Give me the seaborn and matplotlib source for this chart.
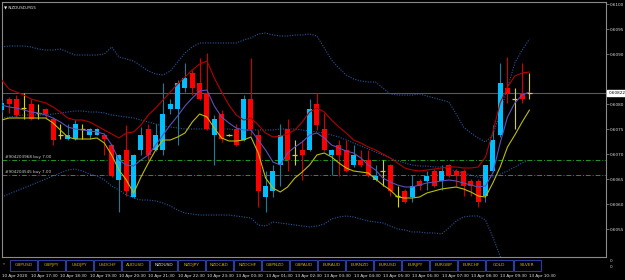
import matplotlib
matplotlib.use("Agg")
import matplotlib.pyplot as plt
import matplotlib.transforms as mtransforms
from matplotlib.patches import Rectangle
import pandas as pd
import seaborn as sns

# ---------------- data (NZDUSD M15) ----------------
open_ = [0.60788, 0.60810, 0.60810, 0.60792, 0.60800, 0.60782, 0.60790, 0.60770, 0.60738, 0.60730,
         0.60730, 0.60750, 0.60738, 0.60738, 0.60738, 0.60718, 0.60648, 0.60708, 0.60614, 0.60708,
         0.60750, 0.60708, 0.60708, 0.60790, 0.60790, 0.60832, 0.60862, 0.60842, 0.60822, 0.60738,
         0.60780, 0.60738, 0.60750, 0.60728, 0.60810, 0.60738, 0.60614, 0.60626, 0.60678, 0.60750,
         0.60698, 0.60708, 0.60708, 0.60800, 0.60750, 0.60698, 0.60718, 0.60708, 0.60678, 0.60688,
         0.60688, 0.60648, 0.60666, 0.60678, 0.60616, 0.60626, 0.60614, 0.60646, 0.60646, 0.60666,
         0.60646, 0.60678, 0.60666, 0.60666, 0.60646, 0.60646, 0.60616, 0.60666, 0.60738, 0.60832,
         0.60810, 0.60822, 0.60822]
high = [0.60808, 0.60814, 0.60818, 0.60822, 0.60810, 0.60800, 0.60792, 0.60774, 0.60760, 0.60760,
        0.60768, 0.60760, 0.60752, 0.60752, 0.60740, 0.60720, 0.60700, 0.60758, 0.60700, 0.60754,
        0.60760, 0.60760, 0.60842, 0.60810, 0.60848, 0.60882, 0.60868, 0.60892, 0.60902, 0.60778,
        0.60788, 0.60740, 0.60760, 0.60818, 0.60892, 0.60748, 0.60666, 0.60678, 0.60760, 0.60770,
        0.60728, 0.60728, 0.60810, 0.60822, 0.60782, 0.60710, 0.60728, 0.60728, 0.60718, 0.60708,
        0.60708, 0.60678, 0.60688, 0.60680, 0.60636, 0.60630, 0.60658, 0.60650, 0.60666, 0.60670,
        0.60678, 0.60680, 0.60670, 0.60670, 0.60650, 0.60650, 0.60678, 0.60758, 0.60882, 0.60894,
        0.60832, 0.60882, 0.60862]
low = [0.60784, 0.60782, 0.60774, 0.60770, 0.60768, 0.60770, 0.60770, 0.60718, 0.60730, 0.60728,
       0.60728, 0.60730, 0.60730, 0.60738, 0.60698, 0.60654, 0.60584, 0.60616, 0.60612, 0.60698,
       0.60688, 0.60706, 0.60698, 0.60780, 0.60718, 0.60824, 0.60818, 0.60808, 0.60748, 0.60678,
       0.60724, 0.60736, 0.60716, 0.60726, 0.60738, 0.60594, 0.60584, 0.60614, 0.60636, 0.60666,
       0.60678, 0.60648, 0.60706, 0.60748, 0.60706, 0.60658, 0.60656, 0.60664, 0.60674, 0.60674,
       0.60654, 0.60646, 0.60636, 0.60616, 0.60594, 0.60602, 0.60604, 0.60628, 0.60628, 0.60634,
       0.60628, 0.60654, 0.60636, 0.60616, 0.60616, 0.60594, 0.60604, 0.60664, 0.60734, 0.60802,
       0.60750, 0.60802, 0.60810]
close = [0.60802, 0.60800, 0.60778, 0.60792, 0.60770, 0.60782, 0.60780, 0.60728, 0.60738, 0.60738,
         0.60760, 0.60750, 0.60750, 0.60750, 0.60730, 0.60656, 0.60698, 0.60626, 0.60698, 0.60738,
         0.60698, 0.60738, 0.60780, 0.60800, 0.60842, 0.60852, 0.60832, 0.60810, 0.60750, 0.60770,
         0.60730, 0.60738, 0.60718, 0.60810, 0.60750, 0.60626, 0.60636, 0.60666, 0.60738, 0.60688,
         0.60698, 0.60698, 0.60790, 0.60758, 0.60708, 0.60708, 0.60698, 0.60666, 0.60698, 0.60678,
         0.60656, 0.60656, 0.60666, 0.60626, 0.60616, 0.60604, 0.60636, 0.60636, 0.60656, 0.60636,
         0.60666, 0.60656, 0.60656, 0.60636, 0.60636, 0.60604, 0.60678, 0.60728, 0.60842, 0.60822,
         0.60810, 0.60810, 0.60822]

ma_high = [0.60848, 0.60830, 0.60824, 0.60818, 0.60810, 0.60806, 0.60802, 0.60794, 0.60784, 0.60772,
           0.60768, 0.60768, 0.60764, 0.60756, 0.60748, 0.60740, 0.60732, 0.60742, 0.60744, 0.60758,
           0.60778, 0.60792, 0.60808, 0.60824, 0.60840, 0.60854, 0.60868, 0.60880, 0.60886, 0.60852,
           0.60824, 0.60798, 0.60778, 0.60768, 0.60772, 0.60758, 0.60742, 0.60734, 0.60736, 0.60740,
           0.60748, 0.60764, 0.60784, 0.60792, 0.60784, 0.60768, 0.60754, 0.60742, 0.60728, 0.60722,
           0.60714, 0.60708, 0.60700, 0.60692, 0.60682, 0.60672, 0.60668, 0.60666, 0.60668, 0.60670,
           0.60672, 0.60674, 0.60674, 0.60672, 0.60672, 0.60674, 0.60694, 0.60744, 0.60802, 0.60834,
           0.60856, 0.60862, 0.60864]
ma_fast = [0.60798, 0.60794, 0.60792, 0.60788, 0.60784, 0.60782, 0.60778, 0.60772, 0.60764, 0.60754,
           0.60750, 0.60748, 0.60746, 0.60744, 0.60740, 0.60718, 0.60688, 0.60678, 0.60676, 0.60688,
           0.60698, 0.60718, 0.60738, 0.60758, 0.60776, 0.60796, 0.60812, 0.60826, 0.60828, 0.60796,
           0.60774, 0.60762, 0.60752, 0.60748, 0.60748, 0.60728, 0.60708, 0.60684, 0.60678, 0.60702,
           0.60714, 0.60724, 0.60738, 0.60742, 0.60732, 0.60718, 0.60712, 0.60706, 0.60702, 0.60692,
           0.60678, 0.60668, 0.60652, 0.60644, 0.60638, 0.60634, 0.60634, 0.60638, 0.60642, 0.60644,
           0.60646, 0.60648, 0.60646, 0.60642, 0.60638, 0.60634, 0.60636, 0.60662, 0.60722, 0.60774,
           0.60802, 0.60818, 0.60824]
ma_low = [0.60768, 0.60772, 0.60772, 0.60772, 0.60772, 0.60772, 0.60772, 0.60762, 0.60748, 0.60734,
          0.60730, 0.60730, 0.60730, 0.60732, 0.60722, 0.60698, 0.60668, 0.60648, 0.60622, 0.60654,
          0.60682, 0.60708, 0.60728, 0.60728, 0.60734, 0.60742, 0.60764, 0.60780, 0.60774, 0.60752,
          0.60732, 0.60726, 0.60726, 0.60728, 0.60734, 0.60702, 0.60652, 0.60632, 0.60624, 0.60634,
          0.60652, 0.60664, 0.60678, 0.60698, 0.60702, 0.60694, 0.60682, 0.60672, 0.60666, 0.60664,
          0.60662, 0.60650, 0.60638, 0.60628, 0.60614, 0.60612, 0.60612, 0.60614, 0.60622, 0.60626,
          0.60630, 0.60632, 0.60634, 0.60630, 0.60624, 0.60616, 0.60614, 0.60642, 0.60674, 0.60714,
          0.60738, 0.60764, 0.60788]
bb_upper = [0.60914, 0.60916, 0.60916, 0.60916, 0.60914, 0.60910, 0.60908, 0.60908, 0.60910, 0.60904,
            0.60898, 0.60898, 0.60898, 0.60898, 0.60900, 0.60914, 0.60894, 0.60890, 0.60886, 0.60876,
            0.60866, 0.60860, 0.60858, 0.60866, 0.60884, 0.60902, 0.60914, 0.60922, 0.60922, 0.60922,
            0.60922, 0.60922, 0.60922, 0.60928, 0.60932, 0.60940, 0.60942, 0.60938, 0.60936, 0.60936,
            0.60938, 0.60938, 0.60940, 0.60936, 0.60912, 0.60888, 0.60872, 0.60858, 0.60850, 0.60846,
            0.60844, 0.60844, 0.60832, 0.60820, 0.60818, 0.60818, 0.60818, 0.60820, 0.60816, 0.60812,
            0.60808, 0.60804, 0.60780, 0.60754, 0.60742, 0.60732, 0.60724, 0.60738, 0.60782, 0.60832,
            0.60882, 0.60908, 0.60930]
bb_middle = [0.60772, 0.60774, 0.60776, 0.60778, 0.60778, 0.60778, 0.60778, 0.60780, 0.60782, 0.60784,
             0.60786, 0.60786, 0.60784, 0.60784, 0.60782, 0.60778, 0.60776, 0.60774, 0.60772, 0.60768,
             0.60764, 0.60760, 0.60756, 0.60754, 0.60752, 0.60750, 0.60750, 0.60750, 0.60750, 0.60750,
             0.60750, 0.60750, 0.60748, 0.60748, 0.60748, 0.60748, 0.60748, 0.60748, 0.60750, 0.60750,
             0.60750, 0.60748, 0.60746, 0.60744, 0.60742, 0.60738, 0.60734, 0.60728, 0.60722, 0.60716,
             0.60710, 0.60704, 0.60698, 0.60692, 0.60686, 0.60682, 0.60678, 0.60676, 0.60676, 0.60674,
             0.60674, 0.60670, 0.60666, 0.60662, 0.60658, 0.60654, 0.60652, 0.60654, 0.60660, 0.60666,
             0.60674, 0.60682, 0.60688]
bb_lower = [0.60614, 0.60620, 0.60626, 0.60632, 0.60638, 0.60644, 0.60650, 0.60656, 0.60662, 0.60668,
            0.60670, 0.60666, 0.60660, 0.60656, 0.60648, 0.60636, 0.60628, 0.60618, 0.60612, 0.60608,
            0.60608, 0.60606, 0.60602, 0.60596, 0.60588, 0.60582, 0.60580, 0.60578, 0.60578, 0.60578,
            0.60578, 0.60578, 0.60576, 0.60574, 0.60572, 0.60558, 0.60556, 0.60564, 0.60562, 0.60560,
            0.60558, 0.60556, 0.60554, 0.60556, 0.60560, 0.60570, 0.60574, 0.60576, 0.60574, 0.60570,
            0.60566, 0.60564, 0.60562, 0.60556, 0.60550, 0.60548, 0.60544, 0.60544, 0.60542, 0.60542,
            0.60540, 0.60552, 0.60566, 0.60574, 0.60576, 0.60576, 0.60568, 0.60534, 0.60496, 0.60458,
            0.60418, 0.60378, 0.60348]

bid_price = 0.60822
bid_label = "0.60822"
order_prices = [0.60688, 0.60658]
order_labels = ["#904203968 buy 7.00", "#904204545 buy 7.00"]
price_ticks = [0.6100, 0.6095, 0.6090, 0.6080, 0.6075, 0.6070, 0.6065, 0.6060, 0.6055]
time_bars = [0, 4, 8, 12, 16, 20, 24, 28, 32, 36, 40, 44, 48, 52, 56, 60, 64, 68, 72]
time_labels = ["10 Apr 2020", "10 Apr 17:30", "10 Apr 18:30", "10 Apr 19:30", "10 Apr 20:30",
               "10 Apr 21:30", "10 Apr 22:30", "10 Apr 23:30", "13 Apr 00:30", "13 Apr 01:30",
               "13 Apr 02:30", "13 Apr 03:30", "13 Apr 04:30", "13 Apr 05:30", "13 Apr 06:30",
               "13 Apr 07:30", "13 Apr 08:30", "13 Apr 09:30", "13 Apr 10:30"]
symbols = ["GBPUSD", "GBPJPY", "USDJPY", "USDCHF", "AUDUSD", "NZDUSD", "NZDJPY", "NZDCAD",
           "NZDCHF", "GBPNZD", "GBPAUD", "EURAUD", "EURNZD", "EURUSD", "EURJPY", "EURGBP",
           "EURCHF", "GOLD", "SILVER"]
active_symbol = "NZDUSD"
title = "NZDUSD,M15"

# ---------------- styling ----------------
sns.set_style("dark")
plt.rcParams['font.family'] = ['DejaVu Sans']

BG = "black"
BULL_BODY = "#00BFFF"
BULL_WICK = "#1A7C96"
BEAR_BODY = "#FF0000"
BEAR_WICK = "#D00000"
DOJI = "#D8D800"

W, H = 625, 280
fig = plt.figure(figsize=(W / 100, H / 100), dpi=100, facecolor=BG)
ax = fig.add_axes([2 / W, 1 - 257 / H, 604 / W, 255 / H])
ax.set_facecolor(BG)
ax.grid(False)

df = pd.DataFrame({"bar": range(len(close)), "open": open_, "high": high, "low": low,
                   "close": close, "ma_high": ma_high, "ma_fast": ma_fast, "ma_low": ma_low,
                   "bb_upper": bb_upper, "bb_middle": bb_middle, "bb_lower": bb_lower})

# Bollinger bands (dotted)
for col in ["bb_upper", "bb_middle", "bb_lower"]:
    sns.lineplot(data=df, x="bar", y=col, ax=ax, color="#24599E", linewidth=0.8,
                 dashes=False, linestyle=(0, (1, 1.3)))

# horizontal price lines
ax.axhline(bid_price, color="#5A5A5A", linewidth=0.8, zorder=1)
for p in order_prices:
    ax.axhline(p, color="#1E9A1E", linewidth=0.7, linestyle=(0, (5, 2, 1, 2)), zorder=1)

# candles
for i, r in df.iterrows():
    o, h, l, c = r["open"], r["high"], r["low"], r["close"]
    if c > o + 1e-9:
        wc, bc = BULL_WICK, BULL_BODY
    elif c < o - 1e-9:
        wc, bc = BEAR_WICK, BEAR_BODY
    else:
        wc, bc = DOJI, DOJI
    ax.vlines(r["bar"], l, h, color=wc, linewidth=0.8, zorder=3)
    if bc == DOJI:
        ax.hlines(o, r["bar"] - 0.35, r["bar"] + 0.35, color=DOJI, linewidth=0.9, zorder=4)
    else:
        ax.bar(r["bar"], abs(c - o), bottom=min(o, c), width=0.68, color=bc,
               linewidth=0, zorder=4)

# moving averages
sns.lineplot(data=df, x="bar", y="ma_high", ax=ax, color="#B40000", linewidth=0.8, zorder=5)
sns.lineplot(data=df, x="bar", y="ma_fast", ax=ax, color="#5E50B8", linewidth=0.8, zorder=5)
sns.lineplot(data=df, x="bar", y="ma_low", ax=ax, color="#BDBD00", linewidth=0.8, zorder=5)

ax.set_xlim(0.04, 82.44)
ax.set_ylim(0.60494, 0.61004)
ax.set_xlabel("")
ax.set_ylabel("")
ax.set_xticks([])
ax.yaxis.tick_right()
ax.set_yticks(price_ticks)
ax.set_yticklabels([f"{p:.4f}" for p in price_ticks])
ax.tick_params(axis="y", labelcolor="#E0E0E0", color="#909090", labelsize=3,
               length=2, width=0.5, pad=1)
for s in ax.spines.values():
    s.set_color("#8A8A8A")
    s.set_linewidth(0.8)
    s.set_visible(True)

# order labels
for p, t in zip(order_prices, order_labels):
    ax.text(0.5, p + 0.00003, t, fontsize=3, color="#D0D0D0", ha="left", va="bottom", zorder=6)

# title
ax.text(0.004, 0.985, "\u25BC " + title, transform=ax.transAxes, fontsize=3,
        color="#E8E8E8", ha="left", va="top")

# bid box
tb = mtransforms.blended_transform_factory(ax.transAxes, ax.transData)
ax.text(1.004, bid_price, bid_label, transform=tb, fontsize=3, color="black",
        ha="left", va="center", clip_on=False,
        bbox=dict(boxstyle="square,pad=0.25", facecolor="white", edgecolor="white"))

# time labels
tt = mtransforms.blended_transform_factory(ax.transData, fig.transFigure)
for b, t in zip(time_bars, time_labels):
    ax.text(b, 1 - 275.5 / H, t, transform=tt, fontsize=3, color="#E8E8E8",
            ha="left", va="center", clip_on=False)

# symbol tab bar
tab = fig.add_axes([0, 1 - 272 / H, 1, 14 / H])
tab.set_xlim(0, W)
tab.set_ylim(272, 258)
tab.axis("off")
tab.set_facecolor(BG)
tab.text(4, 264.5, "*", fontsize=3, color="#D0D0D0", ha="center", va="center")
for i, s in enumerate(symbols):
    x0 = 10 + 27.98 * i
    tab.add_patch(Rectangle((x0, 259.5), 27.2, 11, facecolor=BG, edgecolor="#2C3C9C",
                            linewidth=0.8))
    tab.text(x0 + 13.6, 265, s, fontsize=3.2, ha="center", va="center",
             color="#E0E0E0" if s == active_symbol else "#D4A800")
tab.text(610, 261.5, "0", fontsize=3, color="#D0D0D0", ha="left", va="center")
tab.text(610, 267.5, "0", fontsize=3, color="#D0D0D0", ha="left", va="center")

fig.savefig("out.png", dpi=100, facecolor=BG)
